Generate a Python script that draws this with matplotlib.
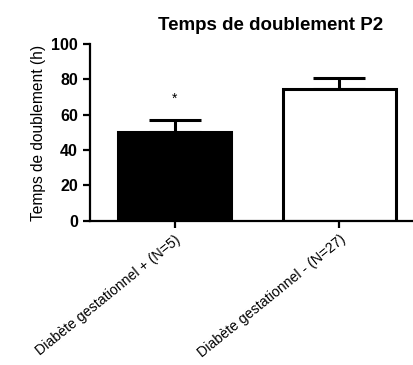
import matplotlib
matplotlib.use("Agg")
import matplotlib.pyplot as plt

groups = ["Diabète gestationnel + (N=5)", "Diabète gestationnel - (N=27)"]
means = [50, 74.5]
sems = [7, 6.5]
fills = ["black", "white"]
star_y = 69

plt.rcParams["font.family"] = ["Liberation Sans", "DejaVu Sans"]

fig = plt.figure(figsize=(4.14, 3.65), dpi=100)
ax = fig.add_axes([0.217, 0.395, 0.778, 0.484])

x = [0, 1]
ax.bar(x, means, width=0.685, color=fills, edgecolor="black", linewidth=2.2, zorder=2)
ax.errorbar(x, means, yerr=[[0, 0], sems], fmt="none", ecolor="black",
            elinewidth=2.2, capsize=19, capthick=2.2, zorder=1)
ax.text(0, star_y, "*", ha="center", va="center", fontsize=10)

ax.set_xlim(-0.515, 1.44)
ax.set_ylim(0, 100)
ax.set_yticks([0, 20, 40, 60, 80, 100])
ax.set_xticks(x)
ax.set_xticklabels(groups, rotation=39, ha="right", rotation_mode="anchor")
ax.set_ylabel("Temps de doublement (h)", fontsize=11.2)
ax.text(0.56, 1.105, "Temps de doublement P2", transform=ax.transAxes,
        ha="center", va="center", fontsize=13.5, fontweight="bold")

for sp in ["top", "right"]:
    ax.spines[sp].set_visible(False)
for sp in ["left", "bottom"]:
    ax.spines[sp].set_linewidth(1.6)
ax.tick_params(axis="both", width=1.6, length=5, labelsize=11.5)
ax.tick_params(axis="x", labelsize=10.2)
for lab in ax.get_yticklabels():
    lab.set_fontweight("bold")

fig.savefig("out.png", dpi=100)
